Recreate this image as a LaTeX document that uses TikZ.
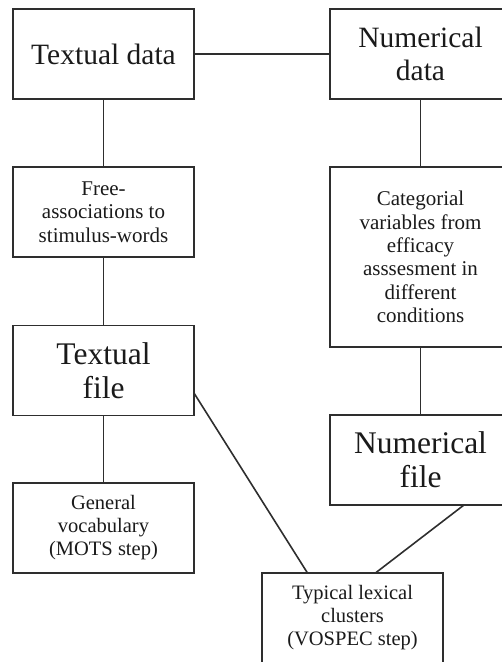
\documentclass[tikz,border=0pt]{standalone}
\usepackage{fontspec}
\setmainfont{Liberation Serif}
\definecolor{linegray}{HTML}{2E2E2E}
\definecolor{textgray}{HTML}{1A1A1A}
\begin{document}
\begin{tikzpicture}[x=1pt,y=-1pt,
  box/.style={draw=linegray, line width=1.7pt, minimum width=181pt, minimum height=90pt,
    inner sep=0pt, outer sep=0pt, align=center, text=textgray},
  big/.style={font=\fontsize{29.5}{33}\selectfont},
  bigger/.style={font=\fontsize{31.5}{34}\selectfont},
  small/.style={font=\fontsize{21}{23.3}\selectfont},
  smaller/.style={font=\fontsize{20.5}{23}\selectfont},
  conn/.style={draw=linegray, line width=1.6pt}]
\clip (0,0) rectangle (502,662);
\node[box, big] (td) at (103.5,54) {Textual data};
\node[box, big] (nd) at (420.5,54) {Numerical\\data};
\node[box, small] (fa) at (103.5,212) {Free-\\associations to\\stimulus-words};
\node[box, small, minimum height=180pt] (cat) at (420.5,257) {Categorial\\variables from\\efficacy\\asssesment in\\different\\conditions};
\node[box, bigger] (tf) at (103.5,370.5) {Textual\\file};
\node[box, bigger] (nf) at (420.5,460) {Numerical\\file};
\node[box, smaller] (gv) at (103.5,528) {General\\vocabulary\\(MOTS step)};
\node[box, smaller] (tl) at (352.5,618) {Typical lexical\\clusters\\(VOSPEC step)};
\draw[conn] (td) -- (nd);
\draw[conn] (td) -- (fa);
\draw[conn] (fa) -- (tf);
\draw[conn] (tf) -- (gv);
\draw[conn] (nd) -- (cat);
\draw[conn] (cat) -- (nf);
\draw[conn] (tf.-14) -- (tl.135);
\draw[conn] (nf.-46) -- (tl.63);
\end{tikzpicture}
\end{document}
